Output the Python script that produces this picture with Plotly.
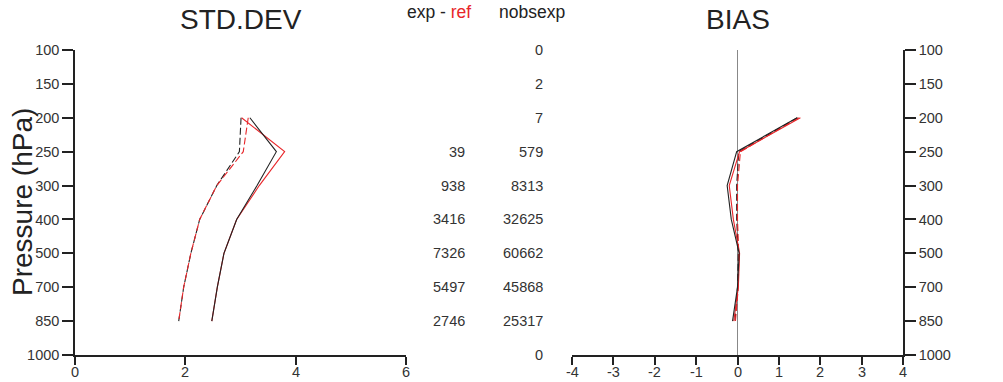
import plotly.graph_objects as go

levels = [100, 150, 200, 250, 300, 400, 500, 700, 850, 1000]
level_labels = [str(v) for v in levels]
data_levels = [200, 250, 300, 400, 500, 700, 850]
std_ticks = [0, 2, 4, 6]
bias_ticks = [-4, -3, -2, -1, 0, 1, 2, 3, 4]

std_exp_solid = [3.17, 3.65, 3.30, 2.93, 2.70, 2.58, 2.48]
std_ref_solid = [3.02, 3.80, 3.34, 2.93, 2.70, 2.58, 2.48]
std_exp_dash = [3.01, 2.98, 2.57, 2.26, 2.10, 1.97, 1.88]
std_ref_dash = [3.14, 3.05, 2.57, 2.26, 2.10, 1.97, 1.88]

bias_exp_solid = [1.44, -0.02, -0.25, -0.15, 0.04, 0.00, -0.12]
bias_ref_solid = [1.52, 0.05, -0.20, -0.10, 0.05, 0.02, -0.09]
bias_exp_dash = [1.45, 0.03, -0.02, -0.02, 0.02, 0.00, -0.06]
bias_ref_dash = [1.48, 0.07, 0.00, 0.00, 0.03, 0.02, -0.05]

nobs_diff = ["", "", "", "39", "938", "3416", "7326", "5497", "2746", ""]
nobs_exp = ["0", "2", "7", "579", "8313", "32625", "60662", "45868", "25317", "0"]

BLACK = "#222222"
RED = "#e8262a"
GREY_TXT = "#333333"
FONT = "Liberation Sans"

idx = {v: i for i, v in enumerate(levels)}
ypos = [idx[v] for v in data_levels]

fig = go.Figure()

def add(x, color, dash, xa, ya):
    fig.add_trace(go.Scatter(x=x, y=ypos, mode="lines", xaxis=xa, yaxis=ya,
                             line=dict(color=color, width=1.1, dash=dash),
                             showlegend=False, hoverinfo="skip"))

add(std_exp_dash, BLACK, "7px,3px", "x", "y")
add(std_ref_dash, RED, "7px,3px", "x", "y")
add(std_ref_solid, RED, "solid", "x", "y")
add(std_exp_solid, BLACK, "solid", "x", "y")

# zero line in bias panel
fig.add_trace(go.Scatter(x=[0, 0], y=[0, 9], mode="lines", xaxis="x2", yaxis="y2",
                         line=dict(color="#888888", width=1), showlegend=False, hoverinfo="skip"))
add(bias_exp_dash, BLACK, "7px,3px", "x2", "y2")
add(bias_ref_dash, RED, "7px,3px", "x2", "y2")
add(bias_ref_solid, RED, "solid", "x2", "y2")
add(bias_exp_solid, BLACK, "solid", "x2", "y2")

W, H = 1003, 382
ydom = [1 - 355 / H, 1 - 50 / H]

axis_common = dict(showgrid=False, zeroline=False, showline=True, linecolor=BLACK, linewidth=1.5,
                   tickwidth=1.5, tickcolor=BLACK, automargin=False,
                   tickfont=dict(family=FONT, size=14.5, color=GREY_TXT))

fig.update_layout(
    width=W, height=H, margin=dict(l=0, r=0, t=0, b=0, autoexpand=False),
    paper_bgcolor="white", plot_bgcolor="white",
    xaxis=dict(domain=[75 / W, 406 / W], range=[0, 6], tickvals=std_ticks, showticklabels=False,
               ticks="outside", ticklen=8, anchor="y", **axis_common),
    yaxis=dict(domain=ydom, range=[9, 0], tickvals=list(range(10)), ticktext=level_labels,
               ticks="outside", ticklen=11, anchor="x", side="left", **axis_common),
    xaxis2=dict(domain=[572 / W, 903 / W], range=[-4, 4], tickvals=bias_ticks, showticklabels=False,
                ticks="outside", ticklen=8, anchor="y2", **axis_common),
    yaxis2=dict(domain=ydom, range=[9, 0], tickvals=list(range(10)), ticktext=level_labels,
                ticks="outside", ticklen=11, anchor="x2", side="right", **axis_common),
)

ann = []
ann.append(dict(text="STD.DEV", x=241 / W, y=1 - 20 / H, xref="paper", yref="paper",
                xanchor="center", yanchor="middle",
                showarrow=False, font=dict(family=FONT, size=28, color=BLACK)))
ann.append(dict(text="BIAS", x=738 / W, y=1 - 20 / H, xref="paper", yref="paper",
                xanchor="center", yanchor="middle",
                showarrow=False, font=dict(family=FONT, size=28, color=BLACK)))
ann.append(dict(text="Pressure (hPa)", x=23 / W, y=1 - 202 / H, xref="paper", yref="paper",
                xanchor="center", yanchor="middle",
                textangle=-90, showarrow=False, font=dict(family=FONT, size=28, color=BLACK)))
ann.append(dict(text="exp - <span style='color:%s'>ref</span>" % RED, x=439 / W, y=1 - 12 / H,
                xref="paper", yref="paper", showarrow=False, xanchor="center", yanchor="middle",
                font=dict(family=FONT, size=17.5, color=BLACK)))
ann.append(dict(text="nobsexp", x=532 / W, y=1 - 12 / H, xref="paper", yref="paper",
                xanchor="center", yanchor="middle",
                showarrow=False, font=dict(family=FONT, size=17.5, color=BLACK)))
for i in range(len(levels)):
    if nobs_diff[i]:
        ann.append(dict(text=nobs_diff[i], x=467 / W, y=i, xref="paper", yref="y", xanchor="right",
                        yanchor="middle",
                        showarrow=False, font=dict(family=FONT, size=14.5, color=GREY_TXT)))
    ann.append(dict(text=nobs_exp[i], x=545 / W, y=i, xref="paper", yref="y", xanchor="right",
                    yanchor="middle",
                    showarrow=False, font=dict(family=FONT, size=14.5, color=GREY_TXT)))
for v in std_ticks:
    ann.append(dict(text=str(v), x=v, y=1 - 372 / H, xref="x", yref="paper", xanchor="center",
                    yanchor="middle", showarrow=False, font=dict(family=FONT, size=14.5, color=GREY_TXT)))
for v in bias_ticks:
    ann.append(dict(text=str(v), x=v, y=1 - 372 / H, xref="x2", yref="paper", xanchor="center",
                    yanchor="middle", showarrow=False, font=dict(family=FONT, size=14.5, color=GREY_TXT)))
fig.update_layout(annotations=ann)

fig.write_html("out.html")
